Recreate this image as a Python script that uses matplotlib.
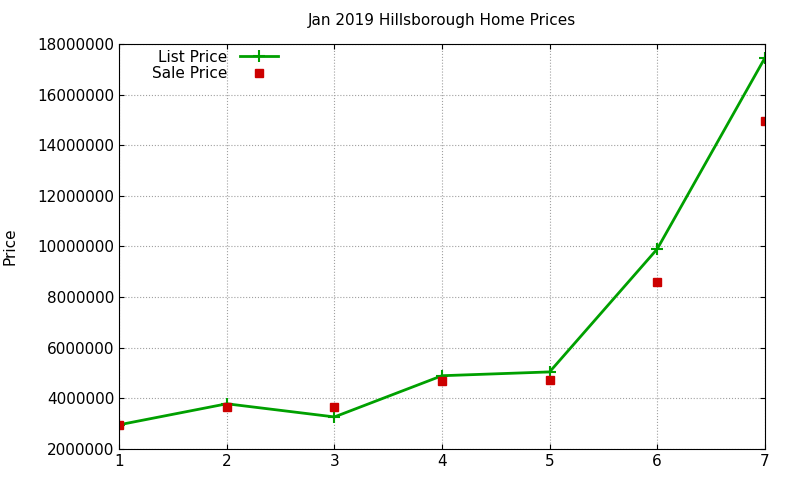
import matplotlib
matplotlib.use("Agg")
import matplotlib.pyplot as plt

x = [1, 2, 3, 4, 5, 6, 7]
list_price = [2950000, 3780000, 3260000, 4890000, 5040000, 9900000, 17450000]
sale_price = [2950000, 3660000, 3660000, 4690000, 4730000, 8600000, 14960000]

fig = plt.figure(figsize=(8, 4.8), dpi=100)
ax = fig.add_axes([0.149, 0.065, 0.807, 0.843])
ax.plot(x, list_price, color="#00a000", marker="+", markersize=8, mew=1.5, lw=2, label="List Price")
ax.plot(x, sale_price, color="#cc0000", marker="s", markersize=6, ls="none", label="Sale Price")
ax.set_xlim(1, 7)
ax.set_ylim(2000000, 18000000)
ax.set_yticks(range(2000000, 18000001, 2000000))
ax.set_yticklabels([str(v) for v in range(2000000, 18000001, 2000000)])
ax.grid(True, color="#a0a0a0", ls=":", lw=0.8)
ax.tick_params(direction="in", labelsize=11, top=True, right=True)
ax.set_ylabel("Price", fontsize=11, labelpad=14)
ax.set_title("Jan 2019 Hillsborough Home Prices", fontsize=11, pad=14)
ax.legend(loc="upper left", frameon=False, markerfirst=False, fontsize=11,
          bbox_to_anchor=(0.03, 1.02), handlelength=2.5, labelspacing=0.1)
fig.savefig("out.png")
